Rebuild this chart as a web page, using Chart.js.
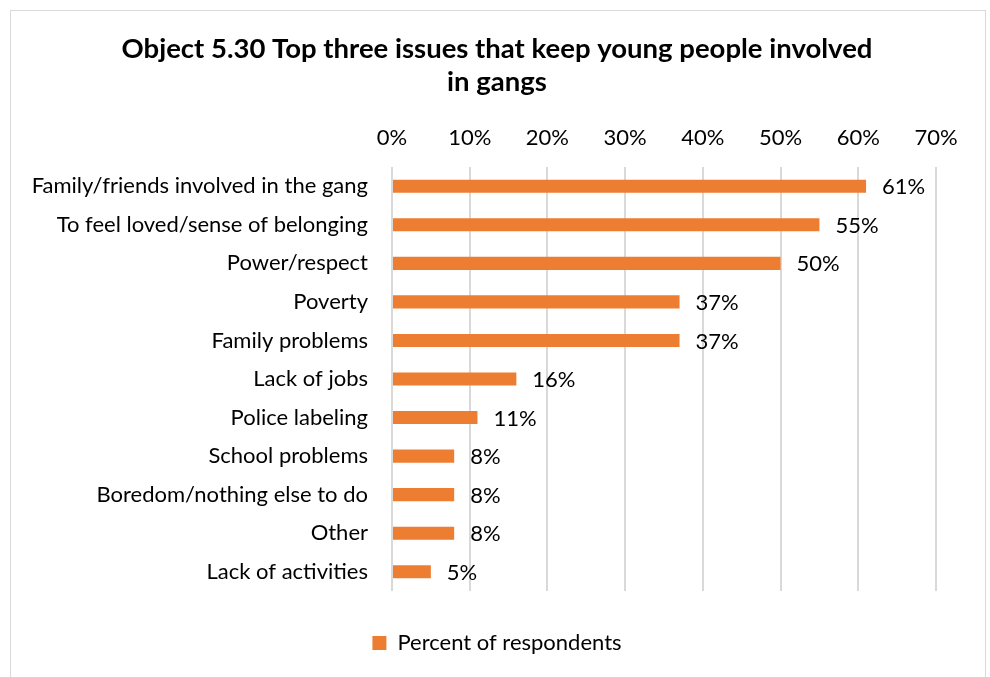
<!DOCTYPE html>
<html>
<head>
<meta charset="utf-8">
<script src="https://cdn.jsdelivr.net/npm/chart.js@4.4.0/dist/chart.umd.min.js"></script>
<style>
  html, body { margin: 0; padding: 0; background: #fff; }
  #frame { position: absolute; left: 10px; top: 10px; width: 974px; height: 700px; border: 1px solid #d9d9d9; }
  #wrap { position: absolute; left: 0; top: 0; width: 990px; height: 677px; }
</style>
</head>
<body>
<div id="frame"></div>
<div id="wrap"><canvas id="chart"></canvas></div>
<script>
"use strict";

// Chart data
const categories = [
  "Family/friends involved in the gang",
  "To feel loved/sense of belonging",
  "Power/respect",
  "Poverty",
  "Family problems",
  "Lack of jobs",
  "Police labeling",
  "School problems",
  "Boredom/nothing else to do",
  "Other",
  "Lack of activities",
];
const percentValues = [61, 55, 50, 37, 37, 16, 11, 8, 8, 8, 5];
const xTicks = [0, 10, 20, 30, 40, 50, 60, 70];

const FONT = "Lato, 'Open Sans', sans-serif";
const ORANGE = "#ED7D31";

// Draw value labels at the end of each bar
const valueLabels = {
  id: "valueLabels",
  afterDatasetsDraw(chart) {
    const ctx = chart.ctx;
    const meta = chart.getDatasetMeta(0);
    ctx.save();
    ctx.font = "22px " + FONT;
    ctx.fillStyle = "#000";
    ctx.textAlign = "left";
    ctx.textBaseline = "middle";
    meta.data.forEach((bar, i) => {
      ctx.fillText(percentValues[i] + "%", bar.x + 16, bar.y + 1);
    });
    ctx.restore();
  },
};

const canvas = document.getElementById("chart");
canvas.width = 990;
canvas.height = 677;

new Chart(canvas.getContext("2d"), {
  type: "bar",
  data: {
    labels: categories,
    datasets: [
      {
        label: "Percent of respondents",
        data: percentValues,
        backgroundColor: ORANGE,
        borderWidth: 0,
        barPercentage: 0.34,
        categoryPercentage: 1,
      },
    ],
  },
  options: {
    indexAxis: "y",
    responsive: false,
    animation: false,
    layout: { padding: { left: 4, right: 0, top: 20, bottom: 13 } },
    scales: {
      x: {
        position: "top",
        min: 0,
        max: 70,
        afterBuildTicks: (scale) => {
          scale.ticks = xTicks.map((v) => ({ value: v }));
        },
        afterFit: (scale) => {
          scale.height = 68;
        },
        ticks: {
          callback: (v) => v + "%",
          font: { family: FONT, size: 22 },
          color: "#000",
          padding: 16,
          maxRotation: 0,
        },
        grid: { color: "#d9d9d9", lineWidth: 2, drawTicks: false },
        border: { display: false },
      },
      // empty spacer below the plot area
      x2: {
        type: "linear",
        position: "bottom",
        ticks: { display: false },
        grid: { display: false, drawTicks: false },
        border: { display: false },
        afterFit: (scale) => {
          scale.height = 31;
        },
      },
      y: {
        afterFit: (scale) => {
          scale.width = 388;
        },
        ticks: {
          font: { family: FONT, size: 22 },
          color: "#000",
          padding: 24,
        },
        grid: { display: false, drawTicks: false },
        border: { display: false },
      },
      // empty spacer right of the plot area
      y2: {
        type: "linear",
        position: "right",
        ticks: { display: false },
        grid: { display: false, drawTicks: false },
        border: { display: false },
        afterFit: (scale) => {
          scale.width = 54;
        },
      },
    },
    plugins: {
      title: {
        display: true,
        text: ["Object 5.30 Top three issues that keep young people involved", "in gangs"],
        font: { family: FONT, size: 27.5, weight: "bold" },
        color: "#000",
        padding: { top: 13, bottom: 0 },
        lineHeight: 1.36,
      },
      legend: {
        position: "bottom",
        labels: {
          font: { family: FONT, size: 22 },
          color: "#000",
          boxWidth: 14,
          boxHeight: 14,
          padding: 10,
        },
      },
      tooltip: { enabled: false },
    },
  },
  plugins: [valueLabels],
});
</script>
</body>
</html>
